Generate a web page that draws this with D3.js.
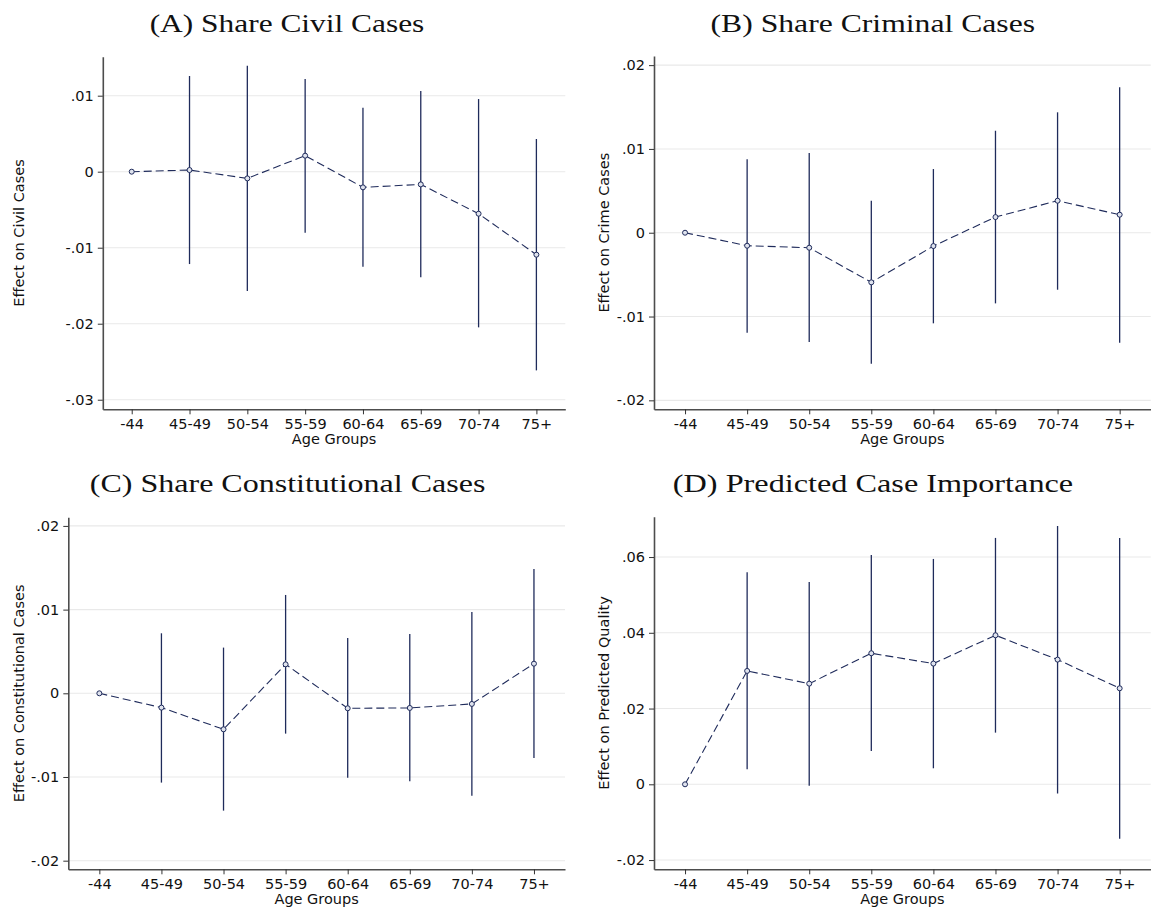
<!DOCTYPE html>
<html>
<head>
<meta charset="utf-8">
<script src="https://cdn.jsdelivr.net/npm/d3@7"></script>
<style>
  html, body { margin: 0; padding: 0; background: #fff; }
  svg { display: block; }
</style>
</head>
<body>
<svg id="chart" width="1151" height="912"></svg>
<script>
// Age-group categories on every x axis
const ageGroups = ["-44", "45-49", "50-54", "55-59", "60-64", "65-69", "70-74", "75+"];

// (A) Share of civil cases: point estimates and 95% CI bounds
const civilEst = [0, 0.00022, -0.00088, 0.00211, -0.00206, -0.00167, -0.00553, -0.01092];
const civilLo  = [0, -0.01215, -0.0157, -0.00803, -0.0125, -0.0139, -0.02048, -0.02614];
const civilHi  = [0, 0.01259, 0.01395, 0.01219, 0.00842, 0.01061, 0.00956, 0.0043];
const civilTicks = [-0.03, -0.02, -0.01, 0, 0.01];

// (B) Share of criminal cases
const crimeEst = [0, -0.00155, -0.00179, -0.00592, -0.00159, 0.00187, 0.00382, 0.00215];
const crimeLo  = [0, -0.01193, -0.01304, -0.01563, -0.01081, -0.00843, -0.0068, -0.01313];
const crimeHi  = [0, 0.00876, 0.00951, 0.00382, 0.0076, 0.01217, 0.01437, 0.01735];
const crimeTicks = [-0.02, -0.01, 0, 0.01, 0.02];

// (C) Share of constitutional cases
const constEst = [0, -0.00171, -0.0043, 0.00346, -0.00179, -0.00175, -0.00127, 0.00354];
const constLo  = [0, -0.01067, -0.01402, -0.00482, -0.01008, -0.01051, -0.01223, -0.00773];
const constHi  = [0, 0.00717, 0.00546, 0.01175, 0.00661, 0.00709, 0.00972, 0.01485];
const constTicks = [-0.02, -0.01, 0, 0.01, 0.02];

// (D) Predicted case importance
const qualEst = [0, 0.02993, 0.02658, 0.0346, 0.03187, 0.03935, 0.03292, 0.02535];
const qualLo  = [0, 0.00396, -0.00035, 0.0088, 0.00423, 0.01364, -0.00246, -0.01435];
const qualHi  = [0, 0.05599, 0.05343, 0.06056, 0.0595, 0.06505, 0.06822, 0.06505];
const qualTicks = [-0.02, 0, 0.02, 0.04, 0.06];

const titles = ["(A) Share Civil Cases", "(B) Share Criminal Cases",
                "(C) Share Constitutional Cases", "(D) Predicted Case Importance"];
const yTitles = ["Effect on Civil Cases", "Effect on Crime Cases",
                 "Effect on Constitutional Cases", "Effect on Predicted Quality"];
const xTitle = "Age Groups";

const markColor = "#1f2b5b";
const axisColor = "#4d4d4d";
const gridColor = "#e9e9e9";
const labelSize = 14.5;

// Panel frames: plot-area box, y-domain, title placement
const panels = [
  { est: civilEst, lo: civilLo, hi: civilHi, ticks: civilTicks, domain: [-0.03126, 0.01513],
    left: 102.8, right: 565.3, top: 56.7, bottom: 409.3, titleX: 287, titleW: 274.7, titleY: 32.3, yTitleX: 23.5 },
  { est: crimeEst, lo: crimeLo, hi: crimeHi, ticks: crimeTicks, domain: [-0.02107, 0.02109],
    left: 654, right: 1150.7, top: 56, bottom: 409.3, titleX: 872.8, titleW: 324.5, titleY: 32.3, yTitleX: 608.5 },
  { est: constEst, lo: constLo, hi: constHi, ticks: constTicks, domain: [-0.02103, 0.02103],
    left: 68.3, right: 565, top: 517.3, bottom: 869.3, titleX: 287.6, titleW: 395.5, titleY: 492.3, yTitleX: 23.5 },
  { est: qualEst, lo: qualLo, hi: qualHi, ticks: qualTicks, domain: [-0.02244, 0.07065],
    left: 654, right: 1150.7, top: 516.7, bottom: 869.3, titleX: 873, titleW: 400.3, titleY: 492.3, yTitleX: 608.5 }
];

// ".01", "-.01", "0" style tick labels with a plain hyphen
function fmtTick(v) {
  if (Math.abs(v) < 1e-12) return "0";
  return (v < 0 ? "-" : "") + Math.abs(v).toFixed(2).replace(/^0/, "");
}

const svg = d3.select("#chart");

panels.forEach((p, i) => {
  const g = svg.append("g");
  const x = d3.scalePoint().domain(ageGroups).range([p.left, p.right]).padding(0.5);
  const y = d3.scaleLinear().domain(p.domain).range([p.bottom, p.top]);

  // title
  g.append("text")
    .attr("x", p.titleX).attr("y", p.titleY)
    .attr("text-anchor", "middle")
    .attr("font-family", "'Liberation Serif', 'DejaVu Serif', serif")
    .attr("font-size", 25)
    .attr("fill", "#111")
    .attr("textLength", p.titleW)
    .attr("lengthAdjust", "spacingAndGlyphs")
    .text(titles[i]);

  // horizontal gridlines
  g.append("g").selectAll("line").data(p.ticks).join("line")
    .attr("x1", p.left).attr("x2", p.right)
    .attr("y1", d => y(d)).attr("y2", d => y(d))
    .attr("stroke", gridColor).attr("stroke-width", 1.1);

  // y axis
  const yAxis = g.append("g")
    .attr("transform", `translate(${p.left},0)`)
    .call(d3.axisLeft(y).tickValues(p.ticks).tickFormat(fmtTick).tickSize(5).tickSizeOuter(0).tickPadding(4));
  yAxis.attr("font-family", "'DejaVu Sans', sans-serif").attr("font-size", labelSize);
  yAxis.select(".domain").attr("stroke", axisColor).attr("stroke-width", 1.6);
  yAxis.selectAll(".tick line").attr("stroke", "#333").attr("stroke-width", 1);
  yAxis.selectAll(".tick text").attr("fill", "#111");

  // x axis
  const xAxis = g.append("g")
    .attr("transform", `translate(0,${p.bottom})`)
    .call(d3.axisBottom(x).tickSize(5).tickSizeOuter(0).tickPadding(4));
  xAxis.attr("font-family", "'DejaVu Sans', sans-serif").attr("font-size", labelSize);
  xAxis.select(".domain").attr("stroke", axisColor).attr("stroke-width", 1.6);
  xAxis.selectAll(".tick line").attr("stroke", "#333").attr("stroke-width", 1);
  xAxis.selectAll(".tick text").attr("fill", "#111");

  // axis titles
  g.append("text")
    .attr("x", (p.left + p.right) / 2).attr("y", p.bottom + 35)
    .attr("text-anchor", "middle")
    .attr("font-family", "'DejaVu Sans', sans-serif").attr("font-size", labelSize)
    .attr("fill", "#111")
    .text(xTitle);
  g.append("text")
    .attr("transform", `translate(${p.yTitleX},${(p.top + p.bottom) / 2}) rotate(-90)`)
    .attr("text-anchor", "middle")
    .attr("font-family", "'DejaVu Sans', sans-serif").attr("font-size", labelSize)
    .attr("fill", "#111")
    .text(yTitles[i]);

  const rows = ageGroups.map((a, k) => ({ a, est: p.est[k], lo: p.lo[k], hi: p.hi[k] }));

  // confidence intervals (reference category has none)
  g.append("g").selectAll("line").data(rows.filter(r => r.hi !== r.lo)).join("line")
    .attr("x1", d => x(d.a)).attr("x2", d => x(d.a))
    .attr("y1", d => y(d.lo)).attr("y2", d => y(d.hi))
    .attr("stroke", markColor).attr("stroke-width", 1.3);

  // dashed connecting line
  g.append("path")
    .datum(rows)
    .attr("d", d3.line().x(d => x(d.a)).y(d => y(d.est)))
    .attr("fill", "none")
    .attr("stroke", markColor).attr("stroke-width", 1.1)
    .attr("stroke-dasharray", "8,4");

  // hollow markers
  g.append("g").selectAll("circle").data(rows).join("circle")
    .attr("cx", d => x(d.a)).attr("cy", d => y(d.est))
    .attr("r", 2.5)
    .attr("fill", "#dfe3ee")
    .attr("stroke", markColor).attr("stroke-width", 1);
});
</script>
</body>
</html>
